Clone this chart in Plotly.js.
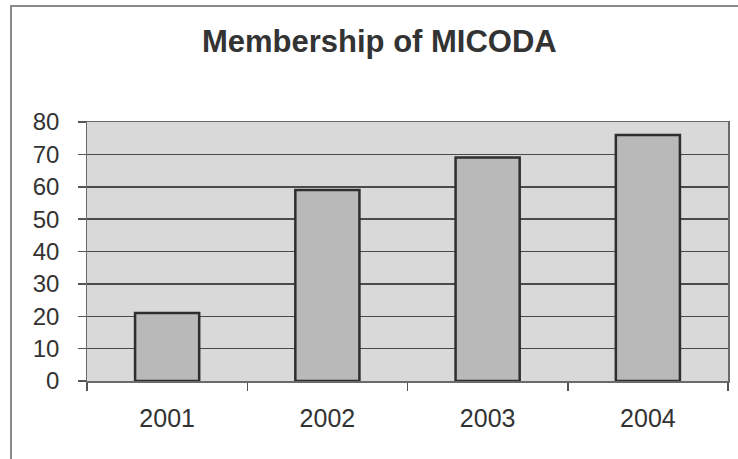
<!DOCTYPE html>
<html>
<head>
<meta charset="utf-8">
<script src="https://cdn.plot.ly/plotly-3.0.1.min.js"></script>
<style>
html,body{margin:0;padding:0;background:#fff;overflow:hidden;}
#frame{position:absolute;left:10px;top:5px;width:800px;height:500px;border-left:2px solid #8a8a8a;border-top:2px solid #8a8a8a;}
#chart{position:absolute;left:0;top:0;width:738px;height:459px;}
</style>
</head>
<body>
<div id="frame"></div>
<div id="chart"></div>
<script>
const years = ['2001', '2002', '2003', '2004'];
const members = [21, 59, 69, 76];
const yTicks = [0, 10, 20, 30, 40, 50, 60, 70, 80];

const trace = {
  type: 'bar',
  x: years,
  y: members,
  marker: {color: '#b9b9b9', line: {color: '#2e2e2e', width: 2.5}},
  hoverinfo: 'skip'
};

const layout = {
  width: 738, height: 459,
  margin: {l: 87, r: 10, t: 122, b: 78, pad: 0},
  paper_bgcolor: 'rgba(0,0,0,0)',
  plot_bgcolor: '#d9d9d9',
  showlegend: false,
  bargap: 0.6,
  font: {family: 'Liberation Sans, Arial, sans-serif', color: '#333'},
  title: {
    text: '<b>Membership of MICODA</b>',
    font: {size: 31, color: '#333', family: 'Liberation Sans, Arial, sans-serif'},
    x: 0.514, xref: 'container', xanchor: 'center',
    y: 0.91, yref: 'container', yanchor: 'middle'
  },
  xaxis: {
    type: 'category',
    tickson: 'boundaries',
    ticks: 'outside', ticklen: 8, tickcolor: '#555', tickwidth: 1.5,
    showgrid: false,
    showline: true, linecolor: '#6a6a6a', linewidth: 1.5, mirror: true,
    tickfont: {size: 25, color: '#333'},
    ticklabelstandoff: 14
  },
  yaxis: {
    range: [0, 80],
    tickvals: yTicks,
    ticktext: yTicks.map(v => String(v) + '\u00a0\u00a0'),
    ticks: 'outside', ticklen: 8, tickcolor: '#555', tickwidth: 1.5,
    showgrid: true, gridcolor: '#4a4a4a', gridwidth: 1.5,
    zeroline: false,
    showline: true, linecolor: '#6a6a6a', linewidth: 1.5, mirror: true,
    tickfont: {size: 24, color: '#333'}
  }
};

Plotly.newPlot('chart', [trace], layout, {displayModeBar: false, staticPlot: true});
</script>
</body>
</html>
